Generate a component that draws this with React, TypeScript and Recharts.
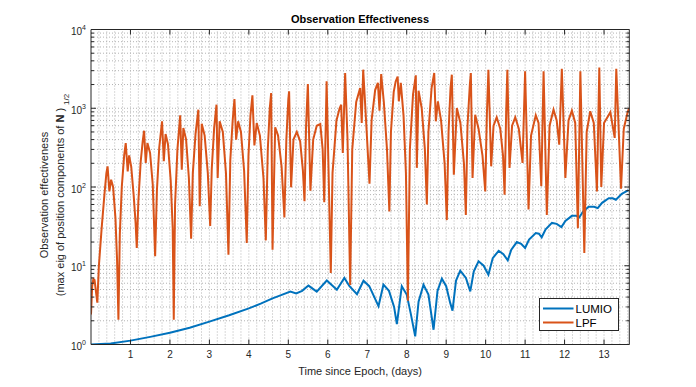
import React from 'react';
import { LineChart, Line, XAxis, YAxis, ReferenceLine, Legend } from 'recharts';

// [day, value]
const lumioSamples: [number, number][] = [
  [0, 1.0], [0.5, 1.03], [1.0, 1.12], [1.5, 1.25], [2.0, 1.41], [2.5, 1.63], [3.0, 1.95],
  [3.5, 2.35], [4.0, 2.88], [4.3, 3.3], [4.6, 3.86], [4.8, 4.2], [5.05, 4.7], [5.2, 4.45],
  [5.35, 4.8], [5.51, 5.6], [5.72, 4.7], [5.975, 6.5], [6.23, 4.95], [6.42, 7.0], [6.55, 5.5],
  [6.74, 4.35], [6.905, 6.45], [7.05, 5.5], [7.2, 3.8], [7.285, 3.06], [7.41, 5.75], [7.55, 4.8],
  [7.68, 3.0], [7.75, 1.82], [7.875, 5.5], [8.0, 4.3], [8.1, 2.5], [8.215, 1.27], [8.3, 3.5],
  [8.425, 5.75], [8.55, 4.3], [8.68, 1.54], [8.78, 4.8], [8.89, 6.85], [9.0, 5.5], [9.1, 3.4],
  [9.16, 2.69], [9.25, 6.5], [9.356, 8.65], [9.5, 7.0], [9.61, 4.73], [9.7, 8.5], [9.82, 11.4],
  [9.95, 10], [10.07, 7.7], [10.18, 12.5], [10.33, 15.5], [10.45, 14], [10.56, 11.7], [10.65, 16],
  [10.79, 20], [10.9, 19], [11.0, 16.8], [11.1, 21.5], [11.27, 26], [11.35, 25.5], [11.42, 23],
  [11.52, 29], [11.68, 35], [11.8, 34], [11.92, 31], [12.02, 37], [12.185, 43], [12.3, 43],
  [12.37, 41], [12.47, 49], [12.61, 56], [12.75, 56], [12.84, 54], [12.95, 63], [13.12, 72],
  [13.22, 72], [13.3, 69], [13.45, 82], [13.62, 91],
];

const lpfSamples: [number, number][] = [
  [0, 2.4], [0.03, 5.5], [0.06, 6.8], [0.09, 6.6], [0.13, 4.5], [0.16, 3.4], [0.2, 10], [0.27, 30],
  [0.34, 80], [0.39, 150], [0.42, 183], [0.466, 88], [0.51, 124], [0.56, 100], [0.62, 40], [0.66, 12],
  [0.695, 2.06], [0.73, 25], [0.78, 100], [0.84, 250], [0.88, 362], [0.93, 158], [0.966, 252],
  [1.02, 180], [1.08, 80], [1.13, 35], [1.16, 16.8], [1.2, 66], [1.26, 212], [1.31, 380], [1.345, 519],
  [1.387, 202], [1.43, 362], [1.497, 270], [1.565, 107], [1.625, 13.2], [1.67, 90], [1.73, 320],
  [1.8, 683], [1.845, 212], [1.89, 471], [1.95, 350], [2.02, 120], [2.07, 30], [2.097, 2.06],
  [2.13, 60], [2.19, 300], [2.26, 815], [2.3, 166], [2.34, 560], [2.41, 400], [2.48, 130], [2.537, 22],
  [2.58, 150], [2.65, 480], [2.72, 960], [2.755, 57], [2.806, 636], [2.88, 450], [2.96, 150], [3.02, 32],
  [3.06, 170], [3.12, 560], [3.18, 1110], [3.21, 130], [3.26, 683], [3.34, 500], [3.42, 150],
  [3.483, 13.8], [3.53, 220], [3.59, 700], [3.635, 1310], [3.678, 400], [3.728, 683], [3.8, 500],
  [3.88, 160], [3.947, 19.5], [3.99, 250], [4.04, 800], [4.09, 1460], [4.14, 338], [4.2, 650],
  [4.28, 450], [4.37, 130], [4.43, 21], [4.48, 300], [4.53, 1000], [4.565, 1560], [4.6, 16],
  [4.667, 573], [4.74, 450], [4.83, 180], [4.9, 41], [4.95, 400], [5.0, 1300], [5.02, 1640], [5.07, 99],
  [5.13, 400], [5.215, 500], [5.3, 380], [5.37, 160], [5.41, 66], [5.45, 600], [5.495, 2030], [5.56, 90],
  [5.63, 400], [5.72, 600], [5.81, 630], [5.87, 300], [5.91, 64], [5.97, 2200], [6.076, 8.1],
  [6.12, 150], [6.22, 700], [6.3, 1000], [6.34, 1110], [6.38, 270], [6.44, 2800], [6.5, 400],
  [6.567, 5.7], [6.62, 300], [6.72, 1200], [6.82, 1800], [6.86, 650], [6.897, 3090], [6.97, 700],
  [7.057, 110], [7.11, 700], [7.2, 1700], [7.27, 2100], [7.31, 930], [7.353, 2720], [7.42, 1200],
  [7.5, 300], [7.56, 49], [7.6, 500], [7.67, 1600], [7.72, 2190], [7.77, 2520], [7.8, 1225], [7.85, 2100],
  [7.92, 800], [7.98, 150], [8.03, 3.6], [8.08, 300], [8.16, 1500], [8.23, 2620], [8.256, 175],
  [8.3, 1670], [8.38, 1000], [8.46, 300], [8.51, 60], [8.55, 500], [8.63, 1800], [8.697, 2800],
  [8.738, 683], [8.79, 1225], [8.87, 700], [8.96, 200], [9.016, 38], [9.06, 500], [9.11, 1800],
  [9.143, 2670], [9.194, 143], [9.27, 1007], [9.36, 650], [9.45, 200], [9.498, 44], [9.54, 600],
  [9.6, 2000], [9.625, 2800], [9.668, 130], [9.735, 828], [9.82, 550], [9.92, 250], [9.99, 88],
  [10.03, 800], [10.07, 3090], [10.14, 183], [10.2, 600], [10.28, 767], [10.37, 550], [10.44, 250],
  [10.48, 80], [10.52, 900], [10.55, 3090], [10.605, 175], [10.67, 600], [10.75, 767], [10.84, 550],
  [10.935, 202], [11.0, 2950], [11.087, 52], [11.15, 450], [11.27, 815], [11.34, 650], [11.41, 102],
  [11.468, 2950], [11.55, 44], [11.62, 600], [11.72, 960], [11.8, 700], [11.865, 344], [11.93, 3170],
  [12.02, 130], [12.1, 700], [12.185, 930], [12.27, 650], [12.337, 30], [12.4, 2950], [12.5, 14.5],
  [12.56, 500], [12.65, 915], [12.74, 650], [12.82, 88], [12.88, 3300], [12.93, 100], [13.0, 650],
  [13.16, 890], [13.27, 420], [13.31, 3170], [13.43, 95], [13.5, 550], [13.6, 900], [13.64, 1007],
];

const xTicks = [1, 2, 3, 4, 5, 6, 7, 8, 9, 10, 11, 12, 13];
const yMajorTicks = [1, 10, 100, 1000, 10000];
const yExponents = ['0', '1', '2', '3', '4'];
const seriesNames = ['LUMIO', 'LPF'];
const seriesColors = ['#0072BD', '#D95319'];
const titleText = 'Observation Effectiveness';
const xLabelText = 'Time since Epoch, (days)';
const yLabelLine1 = 'Observation effectiveness';

const X_MAX = 13.64;
const AXIS = '#262626';
const GRID = '#b3b3b3';
const FONT = '"Liberation Sans", Arial, Helvetica, sans-serif';

const lumioData = lumioSamples.map(([d, v]) => ({ d, v }));
const lpfData = lpfSamples.map(([d, v]) => ({ d, v }));

const yMinorTicks: number[] = [];
for (const m of [1, 10, 100, 1000]) for (let k = 2; k <= 9; k++) yMinorTicks.push(k * m);
const yAllTicks = [...yMajorTicks, ...yMinorTicks].sort((a, b) => a - b);
const yGrid = yAllTicks.filter((v) => v > 1 && v < 10000);
const xGrid: number[] = [];
for (let i = 1; i * 0.2 < X_MAX - 0.01; i++) xGrid.push(Math.round(i * 2) / 10);

const BottomTick = (props: any) => {
  const { x, y, payload } = props;
  return (
    <g>
      <line x1={x} y1={y} x2={x} y2={y - 5} stroke={AXIS} strokeWidth={1} />
      <text x={x} y={y + 13} textAnchor="middle" fontSize={10} fill={AXIS} fontFamily={FONT}>
        {payload.value}
      </text>
    </g>
  );
};

const TopTick = (props: any) => {
  const { x, y } = props;
  return <line x1={x} y1={y} x2={x} y2={y + 5} stroke={AXIS} strokeWidth={1} />;
};

const LeftTick = (props: any) => {
  const { x, y, payload } = props;
  const idx = yMajorTicks.indexOf(payload.value);
  const major = idx >= 0;
  return (
    <g>
      <line x1={x} y1={y} x2={x + (major ? 5 : 3)} y2={y} stroke={AXIS} strokeWidth={1} />
      {major && (
        <text x={x - 5} y={y + 5.5} textAnchor="end" fontSize={10} fill={AXIS} fontFamily={FONT}>
          10
          <tspan dy={-5} fontSize={7}>{yExponents[idx]}</tspan>
        </text>
      )}
    </g>
  );
};

const RightTick = (props: any) => {
  const { x, y, payload } = props;
  const major = yMajorTicks.indexOf(payload.value) >= 0;
  return <line x1={x} y1={y} x2={x - (major ? 5 : 3)} y2={y} stroke={AXIS} strokeWidth={1} />;
};

const LegendBox = () => (
  <div
    style={{
      width: 80,
      height: 33,
      boxSizing: 'border-box',
      border: `1px solid ${AXIS}`,
      background: '#fff',
    }}
  >
    <svg width={78} height={31} style={{ display: 'block' }}>
      {seriesNames.map((name, i) => (
        <g key={name}>
          <line x1={3} y1={9.5 + i * 14} x2={33.5} y2={9.5 + i * 14} stroke={seriesColors[i]} strokeWidth={2} />
          <text x={35.5} y={13.5 + i * 14} fontSize={11.5} fill="#000" fontFamily={FONT}>
            {name}
          </text>
        </g>
      ))}
    </svg>
  </div>
);

export default function App() {
  return (
    <div style={{ position: 'absolute', left: 0, top: 0, width: 696, height: 387, background: '#fff' }}>
      <LineChart
        width={696}
        height={387}
        margin={{ top: 28.5, right: 65.7, bottom: 12.5, left: 41 }}
        style={{ fontFamily: FONT }}
      >
        {xGrid.map((v) => (
          <ReferenceLine key={'gx' + v} x={v} stroke={GRID} strokeDasharray="1 2" strokeWidth={1} />
        ))}
        {yGrid.map((v) => (
          <ReferenceLine key={'gy' + v} y={v} stroke={GRID} strokeDasharray="1 2" strokeWidth={1} />
        ))}
        <XAxis
          dataKey="d"
          type="number"
          domain={[0, X_MAX]}
          allowDataOverflow
          ticks={xTicks}
          interval={0}
          height={30}
          tickSize={0}
          tickMargin={0}
          tickLine={false}
          axisLine={{ stroke: AXIS, strokeWidth: 1 }}
          tick={<BottomTick />}
        />
        <XAxis
          xAxisId="top"
          orientation="top"
          dataKey="d"
          type="number"
          domain={[0, X_MAX]}
          allowDataOverflow
          ticks={xTicks}
          interval={0}
          height={1}
          tickSize={0}
          tickMargin={0}
          tickLine={false}
          axisLine={{ stroke: AXIS, strokeWidth: 1 }}
          tick={<TopTick />}
        />
        <YAxis
          type="number"
          scale="log"
          domain={[1, 10000]}
          allowDataOverflow
          ticks={yAllTicks}
          interval={0}
          width={50}
          tickSize={0}
          tickMargin={0}
          tickLine={false}
          axisLine={{ stroke: AXIS, strokeWidth: 1 }}
          tick={<LeftTick />}
        />
        <YAxis
          yAxisId="right"
          orientation="right"
          type="number"
          scale="log"
          domain={[1, 10000]}
          allowDataOverflow
          ticks={yAllTicks}
          interval={0}
          width={1}
          tickSize={0}
          tickMargin={0}
          tickLine={false}
          axisLine={{ stroke: AXIS, strokeWidth: 1 }}
          tick={<RightTick />}
        />
        <Line
          data={lumioData}
          dataKey="v"
          name={seriesNames[0]}
          type="linear"
          stroke={seriesColors[0]}
          strokeWidth={2}
          dot={false}
          activeDot={false}
          isAnimationActive={false}
        />
        <Line
          data={lpfData}
          dataKey="v"
          name={seriesNames[1]}
          type="linear"
          stroke={seriesColors[1]}
          strokeWidth={2}
          dot={false}
          activeDot={false}
          isAnimationActive={false}
        />
        <Legend
          layout="vertical"
          align="center"
          verticalAlign="middle"
          wrapperStyle={{ left: 539, top: 298, width: 80, height: 33 }}
          content={() => <LegendBox />}
        />
      </LineChart>
      <svg
        width={696}
        height={387}
        style={{ position: 'absolute', left: 0, top: 0, pointerEvents: 'none' }}
      >
        <text x={360} y={23} textAnchor="middle" fontSize={11} fontWeight="bold" fill="#000" fontFamily={FONT}>
          {titleText}
        </text>
        <text x={360} y={375} textAnchor="middle" fontSize={11} fill={AXIS} fontFamily={FONT}>
          {xLabelText}
        </text>
        <text
          transform="translate(48,195) rotate(-90)"
          textAnchor="middle"
          fontSize={11}
          fill={AXIS}
          fontFamily={FONT}
        >
          {yLabelLine1}
        </text>
        <text
          transform="translate(64,195) rotate(-90)"
          textAnchor="middle"
          fontSize={11}
          fill={AXIS}
          fontFamily={FONT}
        >
          (max eig of position components of <tspan fontWeight="bold">N</tspan> )
          <tspan dx={3} dy={5} fontSize={8}>1/2</tspan>
        </text>
      </svg>
    </div>
  );
}
